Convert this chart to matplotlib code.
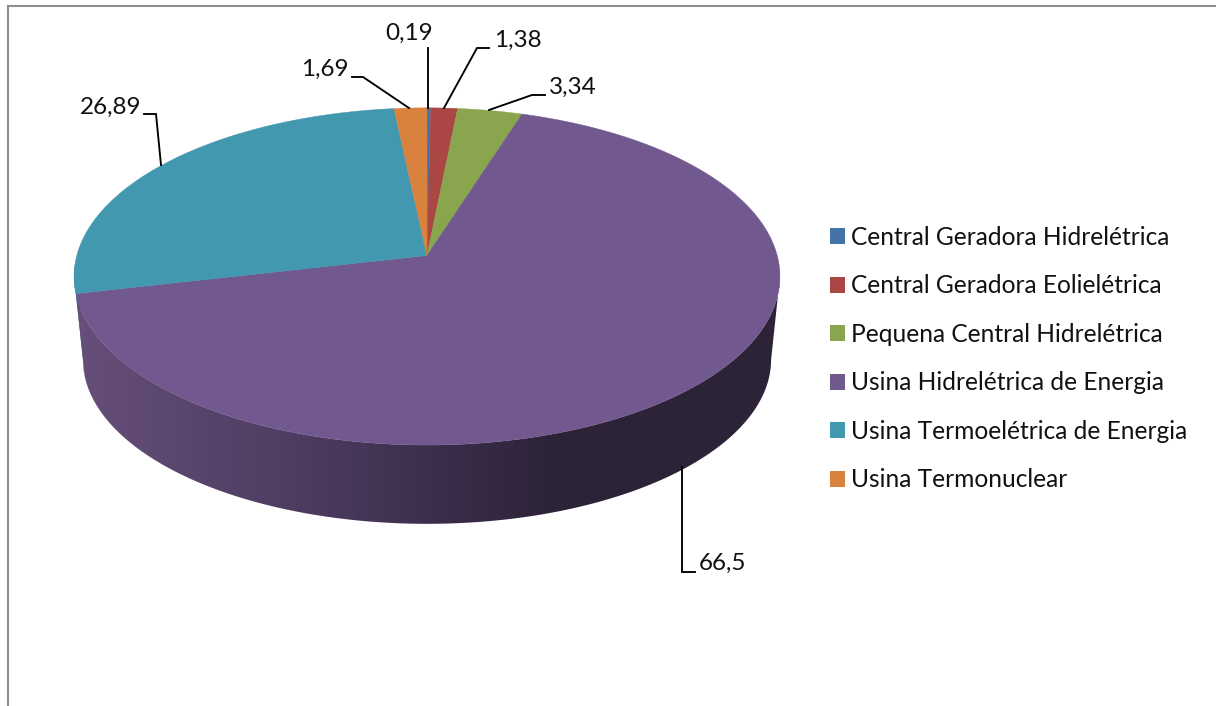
#!/usr/bin/env python3
"""Perspective pie of electricity generation by plant type."""

import matplotlib
matplotlib.use('Agg')
import matplotlib.pyplot as plt
import numpy as np
from matplotlib.colors import to_rgb
from matplotlib.patches import Patch, Polygon

plt.rcParams['font.family'] = ['Lato', 'DejaVu Sans']

CATEGORIES = [
    'Central Geradora Hidrelétrica',
    'Central Geradora Eolielétrica',
    'Pequena Central Hidrelétrica',
    'Usina Hidrelétrica de Energia',
    'Usina Termoelétrica de Energia',
    'Usina Termonuclear',
]
VALUES = [0.19, 1.38, 3.34, 66.5, 26.89, 1.69]
COLORS = ['#4572A7', '#AA4643', '#89A54E', '#71588F', '#4198AF', '#D8823D']

# pie geometry, in pixels
CX, CY = 427, 255.5
RX, RY = 350.2, 166.0
PERSP = 0.1243
DEPTH = 83.5
BOTTOM_SCALE = 0.975
RIGHT_EDGE = 0.27  # fraction round the pie where the outline turns back

# label text position, leader line points (pixels)
LABEL_POS = [(385, 33), (494, 40.5), (549, 87.5), (699, 563.5), (80, 107.5), (301, 69.5)]
LEADERS = [
    [(428, 48), (428, 108)],
    [(444, 108), (477, 48), (489, 48)],
    [(489, 110), (532, 95), (545, 95)],
    [(682, 467), (682, 572), (695, 572)],
    [(144, 114), (156, 114), (161, 165)],
    [(352, 77), (363, 77), (409, 108)],
]

# side wall shading, by x pixel
WALL_X = [75, 300, 430, 560, 780]
WALL_RGB = [to_rgb(c) for c in ['#664F7A', '#4E3C60', '#3C2E4C', '#2C2337', '#2C2337']]


def project(frac, scale=1.0, dy=0.0):
    theta = 2 * np.pi * np.asarray(frac)
    px, py = np.sin(theta), np.cos(theta)
    den = 1 + PERSP * py
    x = CX + scale * RX * px / den
    y = CY + dy - scale * RY * py / den
    return x, y


def main():
    fig = plt.figure(figsize=(12.16, 7.06), dpi=100)
    ax = fig.add_axes([0, 0, 1, 1])
    ax.set_xlim(0, 1216)
    ax.set_ylim(706, 0)
    ax.axis('off')

    # chart frame
    ax.plot([8, 8, 1216], [706, 5.5, 5.5], color='#8C8C8C', lw=1.5, solid_joinstyle='miter')

    edges = np.cumsum([0] + VALUES) / sum(VALUES)

    # side wall of purple slice, gradient image clipped to the wall outline
    fr = np.linspace(max(edges[3], RIGHT_EDGE), edges[4], 300)
    tx, ty = project(fr)
    bx, by = project(fr, BOTTOM_SCALE, DEPTH)
    wall = Polygon(np.r_[np.c_[tx, ty], np.c_[bx, by][::-1]], facecolor='none', edgecolor='none',
                   transform=ax.transData)
    ax.add_patch(wall)
    grad_x = np.arange(60, 800)
    grad = np.stack([np.interp(grad_x, WALL_X, [c[i] for c in WALL_RGB]) for i in range(3)], axis=-1)
    im = ax.imshow(grad[np.newaxis, :, :], extent=(60, 800, 560, 100), aspect='auto', zorder=2,
                   interpolation='bilinear')
    im.set_clip_path(wall)
    ax.set_xlim(0, 1216)
    ax.set_ylim(706, 0)

    # the sliver of teal wall at the far left
    fr = np.linspace(edges[4], edges[4] + 0.03, 20)
    tx, ty = project(fr)
    bx, by = project(fr, BOTTOM_SCALE, DEPTH)
    ax.add_patch(Polygon(np.r_[np.c_[tx, ty], np.c_[bx, by][::-1]], color='#3A6F80', lw=0, zorder=1))

    # top face
    for i, color in enumerate(COLORS):
        fr = np.linspace(edges[i], edges[i + 1], max(4, int(VALUES[i] * 8)))
        x, y = project(fr)
        pts = np.r_[[(CX, CY)], np.c_[x, y]]
        ax.add_patch(Polygon(pts, facecolor=color, edgecolor=color, lw=0.3, zorder=3))

    # value labels with leader lines
    for val, pos, line in zip(VALUES, LABEL_POS, LEADERS):
        ax.text(pos[0], pos[1], str(val).replace('.', ','), fontsize=17.5, color='#111111',
                ha='left', va='center', zorder=5)
        xs, ys = zip(*line)
        ax.plot(xs, ys, color='black', lw=1.35, solid_joinstyle='miter', zorder=4)

    handles = [Patch(facecolor=c, edgecolor='none', label=n) for c, n in zip(COLORS, CATEGORIES)]
    ax.legend(handles=handles, loc='center left', bbox_to_anchor=(823, 358.5),
              bbox_transform=ax.transData, frameon=False, fontsize=17.65,
              handlelength=0.615, handleheight=0.615, handletextpad=0.245,
              labelspacing=1.04, borderpad=0.3, borderaxespad=0, labelcolor='#111111')

    fig.savefig('out.png', dpi=100)


if __name__ == '__main__':
    main()
